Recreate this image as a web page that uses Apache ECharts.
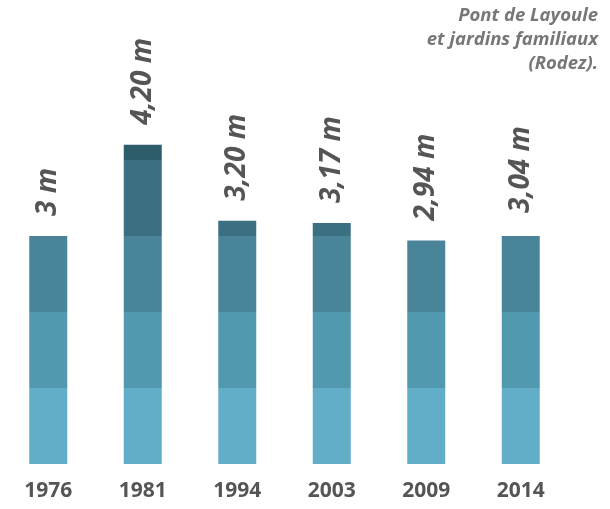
<!DOCTYPE html>
<html><head><meta charset="utf-8">
<script src="https://cdn.jsdelivr.net/npm/echarts@6/dist/echarts.min.js"></script>
<style>html,body{margin:0;padding:0;background:#fff}#c{width:610px;height:509px}</style>
</head><body><div id="c"></div>
<script>
const years = ['1976','1981','1994','2003','2009','2014'];
const totals = [3, 4.20, 3.20, 3.17, 2.94, 3.04];
const totalLabels = ['3 m','4,20 m','3,20 m','3,17 m','2,94 m','3,04 m'];
const titleLines = ['Pont de Layoule', 'et jardins familiaux', '(Rodez).'];
// drawn height of each one-metre band (as seen in the picture)
const band0to1 = [1, 1, 1, 1, 1, 1];
const band1to2 = [1, 1, 1, 1, 1, 1];
const band2to3 = [1, 1, 1, 1, 0.94, 1];
const band3to4 = [0, 1, 0.20, 0.17, 0, 0];
const band4to5 = [0, 0.20, 0, 0, 0, 0];
const bandColors = ['#62AEC8', '#5099AF', '#4A8499', '#3B6F82', '#2D5C6B'];

const bands = [band0to1, band1to2, band2to3, band3to4, band4to5];
const series = bands.map((d, i) => ({
  type: 'bar', stack: 'h', data: d, barWidth: 38,
  itemStyle: { color: bandColors[i] }, silent: true
}));
series.push({
  type: 'bar', data: totals, barWidth: 38, barGap: '-100%', silent: true,
  itemStyle: { color: 'rgba(0,0,0,0)' },
  label: {
    show: true, position: 'top', rotate: 90, align: 'left', verticalAlign: 'middle',
    distance: 17, offset: [3, 0],
    formatter: p => totalLabels[p.dataIndex],
    fontFamily: 'Open Sans', fontStyle: 'italic', fontWeight: 'bold', fontSize: 28,
    color: '#555'
  },
  z: 5
});

const chart = echarts.init(document.getElementById('c'), null, { renderer: 'canvas' });
chart.setOption({
  animation: false,
  graphic: titleLines.map((t, i) => ({
    type: 'text', right: 12, top: 6 + i * 24,
    style: { text: t, font: 'italic bold 18.5px "Open Sans"', fill: '#777' }
  })),
  grid: { left: 1, width: 567, top: 84, bottom: 45, containLabel: false },
  xAxis: {
    type: 'category', data: years,
    axisLine: { show: false }, axisTick: { show: false },
    axisLabel: { margin: 17, fontFamily: 'Open Sans', fontWeight: 'bold', fontSize: 21, color: '#555' }
  },
  yAxis: { type: 'value', min: 0, max: 5, show: false, splitLine: { show: false } },
  series: series
});
</script></body></html>
